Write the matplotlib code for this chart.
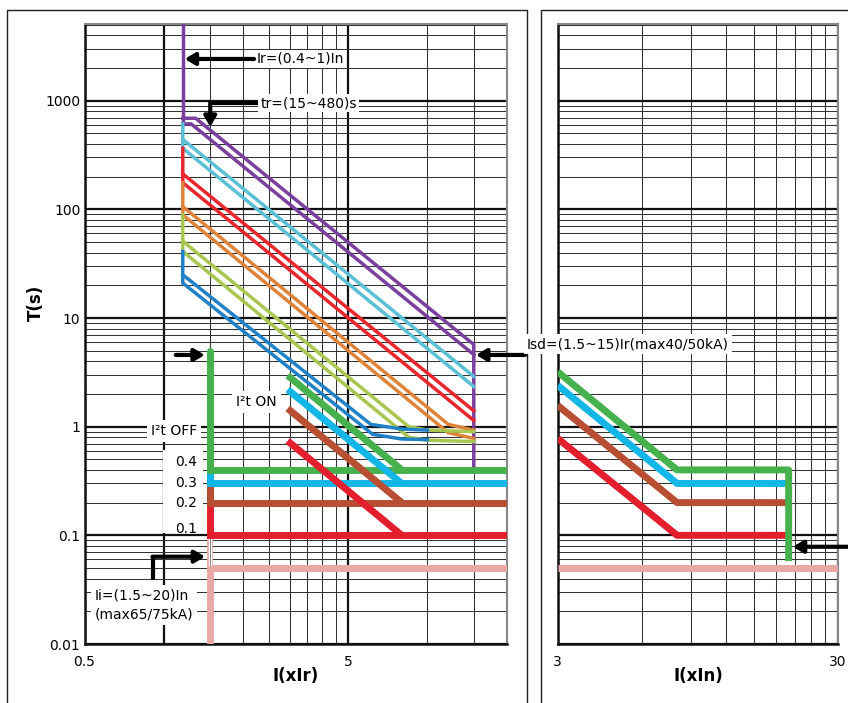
import matplotlib
matplotlib.use('Agg')
import matplotlib.pyplot as plt
from matplotlib.lines import Line2D
from matplotlib.patches import Rectangle

plt.rcParams['font.family'] = ['DejaVu Sans']

W, H = 848, 703
fig = plt.figure(figsize=(W / 100, H / 100), dpi=100)

# ---------------- data (left panel: x in xIr, T in s) ----------------
# long-time delay bands: vertices of each line
purple_vert_x = [1.18, 1.18]
purple_vert_t = [6000, 611]
purple_up_x = [1.18, 1.32, 15, 15]
purple_up_t = [689, 689, 5.7, 0.4]
purple_lo_x = [1.18, 1.27, 15]
purple_lo_t = [611, 611, 4.6]
lblue_up_x = [1.18, 15]
lblue_up_t = [440, 2.9]
lblue_lo_x = [1.18, 1.18, 15]
lblue_lo_t = [611, 365, 2.34]
red_up_x = [1.18, 15]
red_up_t = [212, 1.40]
red_lo_x = [1.18, 1.18, 15]
red_lo_t = [365, 176, 1.14]
orange_up_x = [1.18, 12, 15]
orange_up_t = [106, 1.05, 0.93]
orange_lo_x = [1.18, 1.18, 12, 15]
orange_lo_t = [176, 89, 0.88, 0.78]
yg_up_x = [1.18, 8.5, 10, 15]
yg_up_t = [51, 1.0, 0.93, 0.9]
yg_lo_x = [1.18, 1.18, 8.5, 10, 15]
yg_lo_t = [89, 41, 0.8, 0.75, 0.73]
blue_up_x = [1.18, 6.1, 8, 10]
blue_up_t = [25, 1.05, 0.95, 0.93]
blue_lo_x = [1.18, 1.18, 6.2, 8, 10]
blue_lo_t = [41, 21, 0.85, 0.77, 0.76]

# short-time delay (I2t OFF: flat; I2t ON: sloped part)
st_off_x = [1.5, 1.5, 20]
green_off_t = [5.0, 0.4, 0.4]
cyan_off_t = [0.4, 0.3, 0.3]
brown_off_t = [0.4, 0.2, 0.2]
red_off_t = [0.4, 0.1, 0.1]
st_on_x = [2.95, 8.0]
green_on_t = [2.96, 0.4]
cyan_on_t = [2.2, 0.3]
brown_on_t = [1.47, 0.2]
red_on_t = [0.74, 0.1]
pink_x = [1.5, 1.5, 20]
pink_t = [0.01, 0.05, 0.05]
pink_hollow_t = [0.1, 0.05]

# ---------------- data (right panel: x in xIn) ----------------
r_green_x = [3, 8, 20, 20]
r_green_t = [3.2, 0.4, 0.4, 0.058]
r_flat_x = [3, 8, 20]
r_cyan_t = [2.4, 0.3, 0.3]
r_brown_t = [1.57, 0.2, 0.2]
r_red_t = [0.78, 0.1, 0.1]
r_pink_x = [3, 30]
r_pink_t = [0.05, 0.05]

# ticks
left_xmajor = [0.5, 1, 5]
left_xlabels = ['0.5', '', '5']
left_xminor = [1.5, 2, 2.5, 3, 3.5, 4, 4.5, 10, 15]
right_xmajor = [3, 30]
right_xlabels = ['3', '30']
right_xminor = [6, 9, 12, 15, 18, 21, 24, 27]
y_major = [0.01, 0.1, 1, 10, 100, 1000]
y_labels = ['0.01', '0.1', '1', '10', '100', '1000']
y_minor = [m * d for d in [0.01, 0.1, 1, 10, 100, 1000] for m in range(2, 10)]

# colours
C_PURPLE = '#7b3f9e'
C_LBLUE = '#5bbfd6'
C_RED = '#e8262d'
C_ORANGE = '#e0833a'
C_YG = '#a9c651'
C_BLUE = '#1f82c9'
S_GREEN = '#46b14d'
S_CYAN = '#12b6e7'
S_BROWN = '#b84f32'
S_RED = '#e31e2d'
S_PINK = '#e8a8a6'

YMIN, YMAX = 0.01, 5120

ax1 = fig.add_axes([84.5 / W, 1 - 644 / H, (506.7 - 84.5) / W, (644 - 23.6) / H])
ax2 = fig.add_axes([557.7 / W, 1 - 644 / H, (838 - 557.7) / W, (644 - 23.6) / H])


def style_axes(ax, xmaj, xlab, xmin_, xlim):
    ax.set_xscale('log')
    ax.set_yscale('log')
    ax.set_xticks(xmaj)
    ax.set_xticklabels(xlab)
    ax.set_xticks(xmin_, minor=True)
    ax.set_xticklabels([], minor=True)
    ax.set_yticks(y_major)
    ax.set_yticks(y_minor, minor=True)
    ax.set_yticklabels([], minor=True)
    ax.set_xlim(*xlim)
    ax.set_ylim(YMIN, YMAX)
    ax.tick_params(which='both', length=0)
    ax.tick_params(axis='x', pad=8, labelsize=10)
    ax.tick_params(axis='y', pad=3, labelsize=10)
    ax.grid(which='major', color='#111111', lw=1.6)
    ax.grid(which='minor', color='#333333', lw=0.75)
    ax.set_axisbelow(True)
    for s in ['left', 'bottom']:
        ax.spines[s].set_color('#111111')
        ax.spines[s].set_linewidth(1.8)
    for s in ['top', 'right']:
        ax.spines[s].set_color('#888888')
        ax.spines[s].set_linewidth(1.5)


style_axes(ax1, left_xmajor, left_xlabels, left_xminor, (0.5, 20))
ax1.set_yticklabels(y_labels)
style_axes(ax2, right_xmajor, right_xlabels, right_xminor, (3, 30))
ax2.set_yticklabels([])

LW = 2.5
TW = 5.0

# long-time bands
for xs, ts, c in [
    (purple_vert_x, purple_vert_t, C_PURPLE),
    (purple_up_x, purple_up_t, C_PURPLE),
    (purple_lo_x, purple_lo_t, C_PURPLE),
    (lblue_up_x, lblue_up_t, C_LBLUE),
    (lblue_lo_x, lblue_lo_t, C_LBLUE),
    (red_up_x, red_up_t, C_RED),
    (red_lo_x, red_lo_t, C_RED),
    (orange_up_x, orange_up_t, C_ORANGE),
    (orange_lo_x, orange_lo_t, C_ORANGE),
    (yg_up_x, yg_up_t, C_YG),
    (yg_lo_x, yg_lo_t, C_YG),
    (blue_up_x, blue_up_t, C_BLUE),
    (blue_lo_x, blue_lo_t, C_BLUE),
]:
    ax1.plot(xs, ts, color=c, lw=LW, solid_joinstyle='miter', zorder=3)

# short-time, left
ax1.plot(pink_x, pink_t, color=S_PINK, lw=TW, solid_capstyle='butt', zorder=4)
ax1.plot([st_off_x[0]] * 2, pink_hollow_t, color=S_PINK, lw=4.2, solid_capstyle='butt', zorder=4)
ax1.plot([st_off_x[0]] * 2, [0.097, 0.052], color='white', lw=2.4, solid_capstyle='butt', zorder=4)
ax1.plot([st_off_x[0]] * 2, [0.097, 0.052], color='#555555', lw=0.5, zorder=4)
for ts, c in [(red_off_t, S_RED), (brown_off_t, S_BROWN), (cyan_off_t, S_CYAN), (green_off_t, S_GREEN)]:
    ax1.plot(st_off_x, ts, color=c, lw=TW, solid_capstyle='butt', solid_joinstyle='miter', zorder=5)
for ts, c in [(green_on_t, S_GREEN), (cyan_on_t, S_CYAN), (brown_on_t, S_BROWN), (red_on_t, S_RED)]:
    ax1.plot(st_on_x, ts, color=c, lw=TW, solid_capstyle='butt', zorder=6)
ax1.plot(st_off_x[:2], green_off_t[:2], color=S_GREEN, lw=TW, solid_capstyle='round', zorder=6)

# short-time, right
ax2.plot(r_pink_x, r_pink_t, color=S_PINK, lw=TW, solid_capstyle='butt', zorder=4)
for ts, c in [(r_red_t, S_RED), (r_brown_t, S_BROWN), (r_cyan_t, S_CYAN)]:
    ax2.plot(r_flat_x, ts, color=c, lw=TW, solid_capstyle='butt', zorder=5)
ax2.plot(r_green_x, r_green_t, color=S_GREEN, lw=TW, solid_capstyle='butt', solid_joinstyle='round', zorder=6)

for ax, xl in [(ax1, (0.5, 20)), (ax2, (3, 30))]:
    ax.set_xlim(*xl)
    ax.set_ylim(YMIN, YMAX)

# ---------------- annotations ----------------
box = dict(boxstyle='square,pad=0.15', fc='white', ec='none')
AP = dict(arrowstyle='-|>,head_length=0.5,head_width=0.3', lw=3, color='black',
          shrinkA=0, shrinkB=0, mutation_scale=12)
TXT = 10

ax1.text(2.24, 2420, 'Ir=(0.4~1)In', fontsize=TXT, ha='left', va='center', bbox=box, zorder=8)
ax1.annotate('', xy=(1.2, 2420), xytext=(2.2, 2420), arrowprops=AP, zorder=8)

ax1.text(2.32, 946, 'tr=(15~480)s', fontsize=TXT, ha='left', va='center', bbox=box, zorder=8)
ax1.plot([2.28, 1.5], [946, 946], color='black', lw=3, solid_capstyle='butt', zorder=8)
ax1.annotate('', xy=(1.5, 575), xytext=(1.5, 960), arrowprops=AP, zorder=8)

ax1.annotate('', xy=(1.43, 4.57), xytext=(1.11, 4.57), arrowprops=AP, zorder=8)
ax1.annotate('', xy=(15.3, 4.57), xytext=(23.5, 4.57), arrowprops=AP, zorder=8,
             annotation_clip=False)

ax1.text(2.24, 1.69, 'I²t ON', fontsize=TXT, ha='center', va='center',
         bbox=dict(boxstyle='square,pad=0.3', fc='white', ec='none'), zorder=8)
ax1.text(1.093, 0.912, 'I²t OFF', fontsize=TXT, ha='center', va='center',
         bbox=dict(boxstyle='square,pad=0.3', fc='white', ec='none'), zorder=8)

ax1.add_patch(Rectangle((0.993, 0.105), 1.41 - 0.993, 0.61 - 0.105, fc='white', ec='none', zorder=2.5))
for val, ty in [('0.4', 0.469), ('0.3', 0.305), ('0.2', 0.2), ('0.1', 0.114)]:
    ax1.text(1.336, ty, val, fontsize=TXT, ha='right', va='center', zorder=8)

ax1.text(0.546, 0.0229, 'Ii=(1.5~20)In\n(max65/75kA)', fontsize=TXT, ha='left', va='center',
         linespacing=1.45, bbox=dict(boxstyle='square,pad=0.25', fc='white', ec='none'), zorder=8)
ax1.plot([0.912, 0.912], [0.0388, 0.0636], color='black', lw=3, solid_capstyle='butt', zorder=8)
ax1.annotate('', xy=(1.434, 0.0636), xytext=(0.905, 0.0636), arrowprops=AP, zorder=8)

ax2.annotate('', xy=(20.7, 0.0785), xytext=(33, 0.0785), arrowprops=AP, zorder=8,
             annotation_clip=False)

# Isd label (figure level, on top of both panels)
fig.text(527 / W, 1 - 344 / H, 'Isd=(1.5~15)Ir(max40/50kA)', fontsize=TXT, ha='left', va='center',
         bbox=dict(boxstyle='square,pad=0.25', fc='white', ec='none'), zorder=10)

# axis labels
fig.text(36 / W, 1 - 303 / H, 'T(s)', fontsize=12, fontweight='bold', rotation=90,
         ha='center', va='center')
fig.text(296 / W, 1 - 676 / H, 'I(xIr)', fontsize=12, fontweight='bold', ha='center', va='center')
fig.text(698 / W, 1 - 676 / H, 'I(xIn)', fontsize=12, fontweight='bold', ha='center', va='center')

# panel frames
for xs, ys in [([7, 7, 527, 527], [720, 9.5, 9.5, 720]), ([541, 541, 860], [720, 10, 10])]:
    fig.add_artist(Line2D([x / W for x in xs], [1 - y / H for y in ys], color='#222222', lw=1.0,
                          transform=fig.transFigure, zorder=0))

fig.savefig('out.png', dpi=100)
